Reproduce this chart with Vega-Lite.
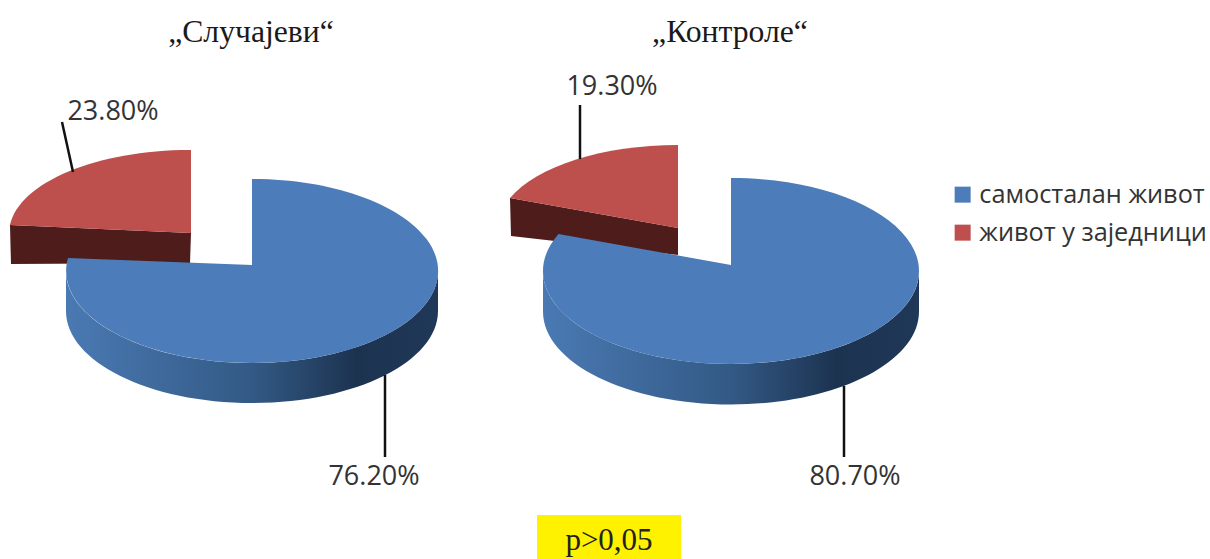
{
"$schema":"https://vega.github.io/schema/vega-lite/v6.json",
"width":1210,"height":559,
"autosize":{"type":"fit","contains":"padding"},
"padding":0,
"background":"white",
"view":{"stroke":null},
"config":{"style":{"cell":{"stroke":null}}},
"datasets":{
"slices":[
{"pie":"Случајеви","category":"живот у заједници","share":0.238,"slice":"Случајеви/живот у заједници"},
{"pie":"Случајеви","category":"самосталан живот","share":0.762,"slice":"Случајеви/самосталан живот"},
{"pie":"Контроле","category":"живот у заједници","share":0.193,"slice":"Контроле/живот у заједници"},
{"pie":"Контроле","category":"самосталан живот","share":0.807,"slice":"Контроле/самосталан живот"}
],
"pies":[{"pie":"Случајеви","title":"„Случајеви“"},{"pie":"Контроле","title":"„Контроле“"}],
"notes":[{"note":"p>0,05"}]
},
"data":{"name":"slices"},
"encoding":{
"x":{"field":"pie","type":"nominal","axis":null,"scale":{"domain":["Случајеви","Контроле"],"range":[252,731],"padding":0}},
"y":{"field":"pie","type":"nominal","axis":null,"scale":{"domain":["Случајеви","Контроле"],"range":[265,265]}}
},
"layer":[
{"transform":[{"filter":"datum.category==='живот у заједници'"}],
 "mark":{"type":"point","filled":true,"opacity":1,"size":4,"fill":"#4e1c1b"},
 "encoding":{"shape":{"field":"pie","type":"nominal","legend":null,"scale":{"domain":["Случајеви","Контроле"],"range":["M-61 -32L-242 -40L-241 -1L-62 -2Z","M-53 -37L-221 -67L-220 -29L-53 -10Z"]}}}},
{"transform":[{"filter":"datum.category==='самосталан живот'"}],
 "mark":{"type":"point","filled":true,"opacity":1,"size":4,"fill":{"gradient":"linear","stops":[{"offset":0,"color":"#4a79b3"},{"offset":0.5,"color":"#335a85"},{"offset":0.78,"color":"#1c3350"},{"offset":1,"color":"#203858"}]}},
 "encoding":{"shape":{"field":"pie","type":"nominal","legend":null,"scale":{"domain":["Случајеви","Контроле"],"range":["M186 6A186 92 0 1 1 -186 6L-186 46A186 92 0 0 0 186 46Z","M188 6A188 93 0 1 1 -188 6L-188 46.5A188 93 0 0 0 188 46.5Z"]}}}},
{"mark":{"type":"point","filled":true,"opacity":1,"size":4},
 "encoding":{
  "color":{"field":"category","type":"nominal","scale":{"domain":["самосталан живот","живот у заједници"],"range":["#4c7dba","#bd4f4c"]},
   "legend":{"orient":"none","legendX":950,"legendY":182,"title":null,"symbolType":"square","symbolSize":256,"symbolStrokeWidth":0,"labelFont":"Open Sans","labelFontSize":25.3,"labelColor":"#333333","labelLimit":300,"rowPadding":12,"labelOffset":4}},
  "shape":{"field":"slice","type":"nominal","legend":null,"scale":{"domain":["Случајеви/живот у заједници","Случајеви/самосталан живот","Контроле/живот у заједници","Контроле/самосталан живот"],"range":["M-61 -32L-242 -40A181 83 0 0 1 -61 -115Z","M0 0L0 -86A186 92 0 1 1 -184 -7Z","M-53 -37L-221 -67A180 83 0 0 1 -53 -120Z","M0 0L0 -87A188 93 0 1 1 -172.5 -31Z"]}}}},
{"mark":{"type":"point","filled":false,"opacity":1,"size":4,"stroke":"#111111","strokeWidth":2.5},
 "encoding":{"shape":{"field":"slice","type":"nominal","legend":null,"scale":{"domain":["Случајеви/живот у заједници","Случајеви/самосталан живот","Контроле/живот у заједници","Контроле/самосталан живот"],"range":["M-190 -143L-179 -93","M133 110L133 192","M-151 -160L-151 -106","M113 121L113 192"]}}}},
{"transform":[{"filter":"datum.slice==='Случајеви/живот у заједници'"}],
 "mark":{"type":"text","font":"Open Sans","fontSize":27,"color":"#333333","baseline":"middle","dx":-139,"dy":-153},
 "encoding":{"text":{"field":"share","type":"quantitative","format":".2%"}}},
{"transform":[{"filter":"datum.slice==='Случајеви/самосталан живот'"}],
 "mark":{"type":"text","font":"Open Sans","fontSize":27,"color":"#333333","baseline":"middle","dx":122,"dy":212},
 "encoding":{"text":{"field":"share","type":"quantitative","format":".2%"}}},
{"transform":[{"filter":"datum.slice==='Контроле/живот у заједници'"}],
 "mark":{"type":"text","font":"Open Sans","fontSize":27,"color":"#333333","baseline":"middle","dx":-119,"dy":-178},
 "encoding":{"text":{"field":"share","type":"quantitative","format":".2%"}}},
{"transform":[{"filter":"datum.slice==='Контроле/самосталан живот'"}],
 "mark":{"type":"text","font":"Open Sans","fontSize":27,"color":"#333333","baseline":"middle","dx":124,"dy":212},
 "encoding":{"text":{"field":"share","type":"quantitative","format":".2%"}}},
{"data":{"name":"pies"},
 "mark":{"type":"text","font":"Liberation Serif","fontSize":31.7,"color":"#1a1a1a","baseline":"middle","dy":-233,"dx":-1},
 "encoding":{"text":{"field":"title","type":"nominal"}}},
{"data":{"name":"notes"},
 "mark":{"type":"point","filled":true,"opacity":1,"size":4,"fill":"#fff200","shape":"M-72 -22H72V22H-72Z"},
 "encoding":{
  "x":{"field":"note","type":"nominal","axis":null,"scale":{"domain":["p>0,05"],"range":[609,609]}},
  "y":{"field":"note","type":"nominal","axis":null,"scale":{"domain":["p>0,05"],"range":[537,537]}}}},
{"data":{"name":"notes"},
 "mark":{"type":"text","font":"Liberation Serif","fontSize":31,"color":"#222222","baseline":"middle","dy":4},
 "encoding":{
  "x":{"field":"note","type":"nominal","axis":null,"scale":{"domain":["p>0,05"],"range":[609,609]}},
  "y":{"field":"note","type":"nominal","axis":null,"scale":{"domain":["p>0,05"],"range":[537,537]}},
  "text":{"field":"note","type":"nominal"}}}
],
"resolve":{"scale":{"x":"independent","y":"independent","shape":"independent"}}
}
